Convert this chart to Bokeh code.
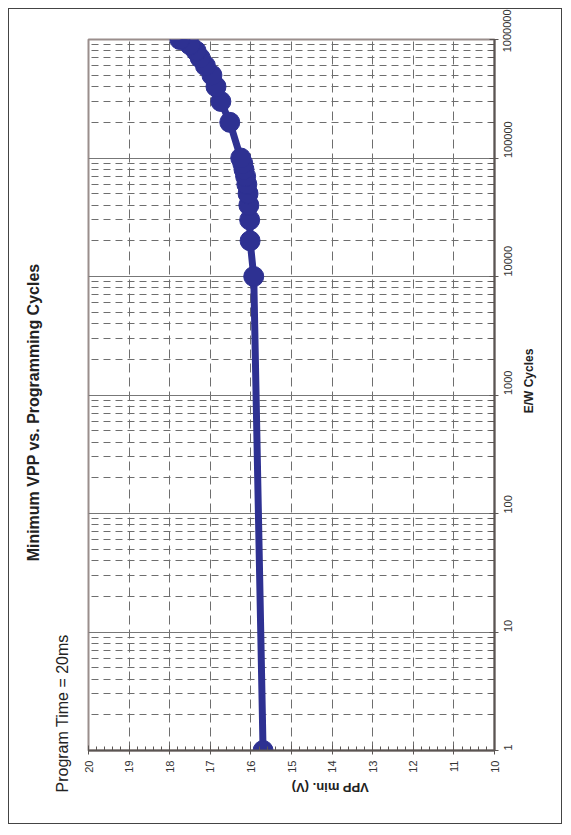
import math
from bokeh.plotting import figure
from bokeh.models import (Title, FixedTicker, SingleIntervalTicker, NumeralTickFormatter,
                          Range1d, ColumnDataSource, LogAxis)
from bokeh.embed import file_html
from bokeh.resources import INLINE

# ---- data ----
cycles = [1, 10000, 20000, 30000, 40000, 50000, 60000, 70000, 80000, 90000,
          100000, 200000, 300000, 400000, 500000, 600000, 700000, 800000, 900000, 1000000]
vpp_min = [15.70, 15.93, 16.02, 16.03, 16.05, 16.07, 16.10, 16.13, 16.17, 16.20,
           16.25, 16.52, 16.74, 16.86, 16.96, 17.12, 17.25, 17.35, 17.50, 17.75]
cycle_ticks = [1, 10, 100, 1000, 10000, 100000, 1000000]
vpp_start, vpp_end = 20, 10

title_text = "Minimum VPP vs. Programming Cycles"
note_text = "Program Time = 20ms"
x_label = "VPP min. (V)"
y_label = "E/W Cycles"
y_label_at = 700   # where the rotated cycles-axis title starts

FONT = "Liberation Sans"
NAVY = "#2E3192"

src = ColumnDataSource(data=dict(v=vpp_min, c=cycles))

p = figure(width=554, height=816,
           x_range=Range1d(vpp_start, vpp_end),
           y_range=Range1d(cycle_ticks[0], cycle_ticks[-1]),
           y_axis_type="log", y_axis_location="right",
           title=None, output_backend="svg", toolbar_location=None,
           min_border_left=79, min_border_right=69,
           min_border_top=30, min_border_bottom=75)
p.styles = {"border": "1px solid #444444", "margin": "8px 0 0 8px"}
p.background_fill_color = "white"
p.border_fill_color = "white"
p.outline_line_color = "#9a8e8c"
p.outline_line_width = 2

# texts on the left (the chart is rotated)
p.add_layout(Title(text=note_text, align="left", offset=-42, standoff=35,
                   text_font=FONT, text_font_size="16px", text_font_style="normal",
                   text_color="#222222"), "left")
p.add_layout(Title(text=title_text, align="right", offset=224, standoff=-14,
                   text_font=FONT, text_font_size="16px", text_font_style="bold",
                   text_color="#222222"), "left")

# x axis (VPP) at bottom
xa = p.xaxis[0]
xa.ticker = SingleIntervalTicker(interval=1, num_minor_ticks=5)
xa.axis_label = x_label
xa.axis_label_orientation = math.pi
xa.axis_label_text_font = FONT
xa.axis_label_text_font_size = "13px"
xa.axis_label_text_font_style = "bold"
xa.axis_label_text_color = "#222222"
xa.axis_label_standoff = 12
xa.major_label_orientation = math.pi / 2
xa.major_label_text_font = FONT
xa.major_label_text_font_size = "11px"
xa.major_label_text_color = "#333333"
xa.major_label_standoff = 6
xa.axis_line_color = "#5a5553"
xa.axis_line_width = 2
xa.major_tick_line_color = "#5a5553"
xa.minor_tick_line_color = "#5a5553"
xa.major_tick_in = 5
xa.major_tick_out = 4
xa.minor_tick_in = 4
xa.minor_tick_out = 0

# y axis (cycles) on right
ya = p.yaxis[0]
ya.ticker = FixedTicker(ticks=cycle_ticks,
                        minor_ticks=[t * m for t in cycle_ticks[:-1] for m in range(2, 10)])
ya.formatter = NumeralTickFormatter(format="0")
ya.major_label_orientation = math.pi / 2
ya.major_label_text_font = FONT
ya.major_label_text_font_size = "11px"
ya.major_label_text_color = "#333333"
ya.major_label_standoff = 9
ya.axis_line_color = "#5a5553"
ya.axis_line_width = 2
ya.major_tick_line_color = "#5a5553"
ya.minor_tick_line_color = "#5a5553"
ya.major_tick_in = 5
ya.major_tick_out = 4
ya.minor_tick_in = 5
ya.minor_tick_out = 0

# rotated title of the cycles axis (reads bottom-to-top)
ylab_axis = LogAxis(ticker=FixedTicker(ticks=[y_label_at], minor_ticks=[]),
                    major_label_overrides={y_label_at: y_label},
                    major_label_orientation=math.pi / 2,
                    major_label_text_font=FONT, major_label_text_font_size="12px",
                    major_label_text_font_style="bold", major_label_text_color="#222222",
                    major_label_standoff=5,
                    axis_line_color=None, major_tick_line_color=None,
                    minor_tick_line_color=None)
p.add_layout(ylab_axis, "right")

# grids
p.xgrid.grid_line_color = "#6e6e6e"
p.xgrid.grid_line_dash = "9 5"
p.xgrid.grid_line_width = 1
p.ygrid.grid_line_color = "#777777"
p.ygrid.grid_line_width = 1
p.ygrid.minor_grid_line_color = "#6e6e6e"
p.ygrid.minor_grid_line_dash = "7 5"
p.ygrid.minor_grid_line_width = 1

# data
p.line("v", "c", source=src, line_color=NAVY, line_width=7)
p.scatter("v", "c", source=src, size=20, fill_color=NAVY, line_color=NAVY)

open("out.html", "w").write(file_html(p, INLINE))
